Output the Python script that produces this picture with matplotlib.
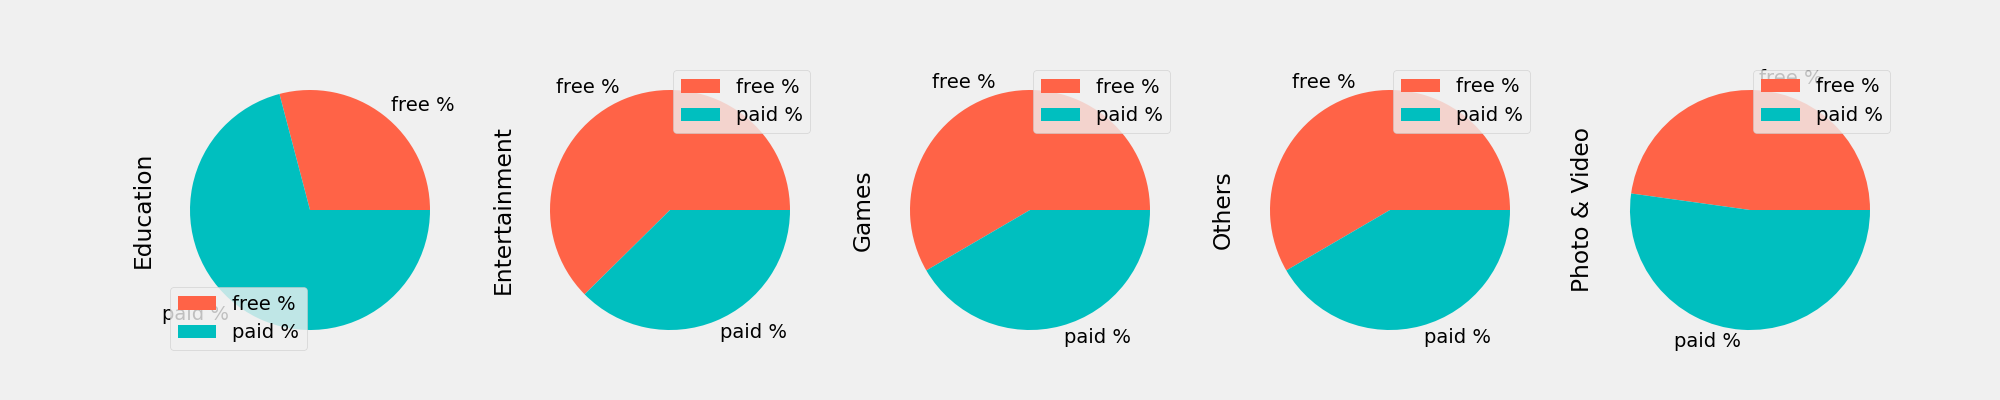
import matplotlib
matplotlib.use('Agg')
import matplotlib.pyplot as plt
import pandas as pd

plt.style.use('fivethirtyeight')

categories = ['Education', 'Entertainment', 'Games', 'Others', 'Photo & Video']
labels = ['free %', 'paid %']
free_pct = [29.1, 62.4, 58.4, 58.4, 47.8]
paid_pct = [70.9, 37.6, 41.6, 41.6, 52.2]

df = pd.DataFrame([free_pct, paid_pct], index=labels, columns=categories)

axes = df.plot(kind='pie', subplots=True, layout=(1, 5), figsize=(20, 4),
               colors=['tomato', 'c'])
# legend spots as in the original
legend_loc = ['lower left', 'upper right', 'upper right', 'upper right', 'upper right']
for ax, loc in zip(axes.flat, legend_loc):
    ax.legend(loc=loc)

plt.savefig('out.png', dpi=100)
